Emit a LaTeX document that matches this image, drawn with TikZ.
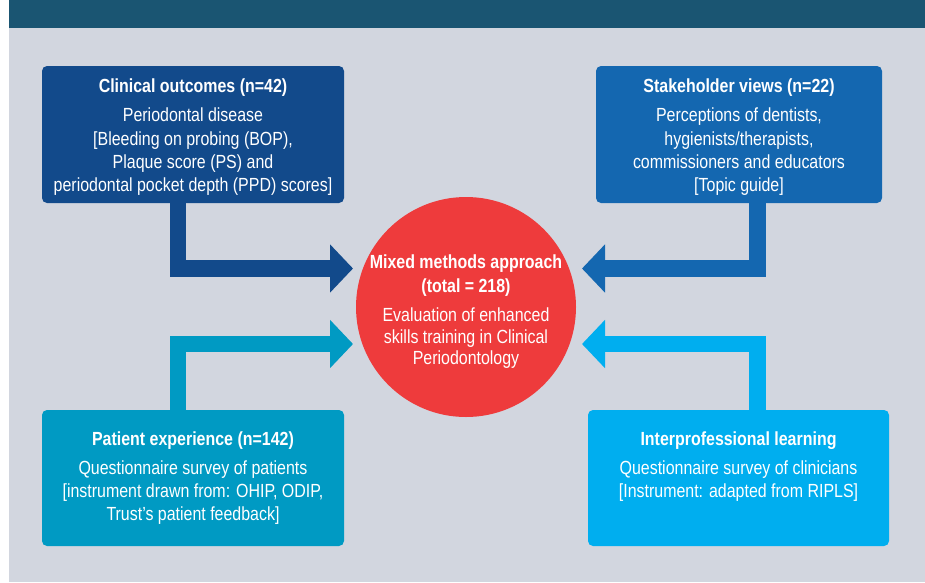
\documentclass[tikz,border=0pt]{standalone}
\usepackage{fontspec}
\setmainfont{Liberation Sans}[FakeStretch=0.84]
\usetikzlibrary{arrows.meta}
\definecolor{banner}{HTML}{1A5572}
\definecolor{bg}{HTML}{D2D6DF}
\definecolor{cA}{HTML}{124A8B}
\definecolor{cB}{HTML}{1467B0}
\definecolor{cC}{HTML}{009AC3}
\definecolor{cD}{HTML}{00AEEF}
\definecolor{cR}{HTML}{EE3B3C}
\tikzset{
  box/.style={rounded corners=5pt, inner sep=0pt, draw=none},
  txt/.style={text=white, anchor=base, inner sep=0pt, font=\fontsize{19}{23}\selectfont},
  hd/.style={txt, font=\fontsize{19}{23}\selectfont\bfseries},
  arr/.style={line width=16.5pt, line join=miter, -{Triangle[width=47pt,length=23pt]}}
}
\begin{document}
\begin{tikzpicture}[x=1pt,y=-1pt]
\useasboundingbox (0,0) rectangle (925,582);
\fill[banner] (9,0) rectangle (925,28);
\fill[bg] (9,28) rectangle (925,582);

% boxes
\node[box, fill=cA, minimum width=302pt, minimum height=137pt] (clin) at (193,134.5) {};
\node[box, fill=cB, minimum width=286pt, minimum height=137pt] (stak) at (739,134.5) {};
\node[box, fill=cC, minimum width=302pt, minimum height=136pt] (pat) at (193,478) {};
\node[box, fill=cD, minimum width=301pt, minimum height=136pt] (ipl) at (738.5,478) {};
\node[circle, fill=cR, minimum size=220pt, inner sep=0pt] (mix) at (466,307) {};

% arrow tips
\coordinate (tA) at (353,268.5);
\coordinate (tB) at (582,268.5);
\coordinate (tC) at (353,344);
\coordinate (tD) at (582,344);

\draw[arr, cA] ([xshift=-15pt]clin.south) |- (tA);
\draw[arr, cB] ([xshift=18.5pt]stak.south) |- (tB);
\draw[arr, cC] ([xshift=-15pt]pat.north) |- (tC);
\draw[arr, cD] ([xshift=19pt]ipl.north) |- (tD);

% texts box A
\node[hd] (a0) at (193,92) {Clinical outcomes (n=42)};
\node[txt] (a1) at (193,121) {Periodontal disease};
\node[txt] (a2) at (193,145) {[Bleeding on probing (BOP),};
\node[txt] (a3) at (193,168) {Plaque score (PS) and};
\node[txt] (a4) at (193,191) {periodontal pocket depth (PPD) scores]};

% texts box B
\node[hd] (b0) at (739,92) {Stakeholder views (n=22)};
\node[txt] (b1) at (739,121) {Perceptions of dentists,};
\node[txt] (b2) at (739,145) {hygienists/therapists,};
\node[txt] (b3) at (739,168) {commissioners and educators};
\node[txt] (b4) at (739,191) {[Topic guide]};

% texts box C
\node[hd] (c0) at (193,445) {Patient experience (n=142)};
\node[txt] (c1) at (193,474) {Questionnaire survey of patients};
\node[txt] (c2) at (193,497) {[instrument drawn from: OHIP, ODIP,};
\node[txt] (c3) at (193,520) {Trust’s patient feedback]};

% texts box D
\node[hd] (d0) at (738.5,445) {Interprofessional learning};
\node[txt] (d1) at (738.5,474) {Questionnaire survey of clinicians};
\node[txt] (d2) at (738.5,497) {[Instrument: adapted from RIPLS]};

% circle texts
\node[hd] (m0) at (466,268) {Mixed methods approach};
\node[hd] (m1) at (466,292) {(total = 218)};
\node[txt] (m2) at (466,321) {Evaluation of enhanced};
\node[txt] (m3) at (466,343) {skills training in Clinical};
\node[txt] (m4) at (466,364) {Periodontology};
\end{tikzpicture}
\end{document}
